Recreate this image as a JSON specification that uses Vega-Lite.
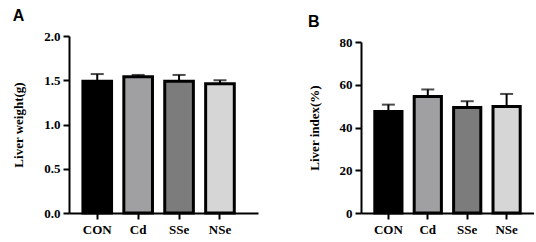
{
  "$schema": "https://vega.github.io/schema/vega-lite/v6.json",
  "padding": {"left": 12, "top": 8, "right": 0, "bottom": 0},
  "spacing": 50,
  "background": "white",
  "config": {
    "view": {"stroke": null},
    "axis": {
      "labelFont": "Liberation Serif", "labelFontWeight": "bold", "labelFontSize": 13, "labelColor": "black",
      "titleFont": "Liberation Serif", "titleFontWeight": "bold", "titleFontSize": 13, "titleColor": "black",
      "domainColor": "black", "domainWidth": 2, "tickColor": "black", "tickWidth": 2, "tickSize": 6,
      "grid": false
    },
    "title": {"font": "Liberation Sans", "fontWeight": "bold", "fontSize": 16, "anchor": "start", "frame": "bounds", "color": "black", "offset": 6}
  },
  "datasets": {
    "weight": [
      {"group": "CON", "mean": 1.49, "upper": 1.57},
      {"group": "Cd", "mean": 1.54, "upper": 1.56},
      {"group": "SSe", "mean": 1.49, "upper": 1.56},
      {"group": "NSe", "mean": 1.46, "upper": 1.50}
    ],
    "index": [
      {"group": "CON", "mean": 47.5, "upper": 50.7},
      {"group": "Cd", "mean": 54.5, "upper": 57.8},
      {"group": "SSe", "mean": 49.3, "upper": 52.3},
      {"group": "NSe", "mean": 49.8, "upper": 55.7}
    ]
  },
  "hconcat": [
    {
      "title": "A",
      "width": 189,
      "height": 177,
      "data": {"name": "weight"},
      "encoding": {
        "x": {"field": "group", "type": "nominal", "sort": ["CON", "Cd", "SSe", "NSe"],
              "scale": {"paddingInner": 0.3, "paddingOuter": 0.46, "align": 0.37},
              "axis": {"title": null, "labelAngle": 0, "labelPadding": 4}}
      },
      "layer": [
        {
          "mark": {"type": "rule", "color": "black", "strokeWidth": 2},
          "encoding": {"y": {"field": "mean", "type": "quantitative"}, "y2": {"field": "upper"}}
        },
        {
          "mark": {"type": "tick", "color": "black", "thickness": 2, "size": 13, "orient": "horizontal"},
          "encoding": {"y": {"field": "upper", "type": "quantitative"}}
        },
        {
          "mark": {"type": "bar", "stroke": "black", "strokeWidth": 3},
          "encoding": {
            "y": {"field": "mean", "type": "quantitative",
                  "scale": {"domain": [0, 2]},
                  "axis": {"title": "Liver weight(g)", "values": [0, 0.5, 1, 1.5, 2], "format": ".1f", "labelPadding": 3, "titlePadding": 18}},
            "fill": {"field": "group", "type": "nominal",
                     "scale": {"domain": ["CON", "Cd", "SSe", "NSe"], "range": ["#000000", "#a0a0a3", "#7c7c7c", "#d6d6d6"]},
                     "legend": null}
          }
        }
      ]
    },
    {
      "title": "B",
      "width": 173,
      "height": 177,
      "data": {"name": "index"},
      "encoding": {
        "x": {"field": "group", "type": "nominal", "sort": ["CON", "Cd", "SSe", "NSe"],
              "scale": {"paddingInner": 0.31, "paddingOuter": 0.35},
              "axis": {"title": null, "labelAngle": 0, "labelPadding": 4}}
      },
      "layer": [
        {
          "mark": {"type": "rule", "color": "black", "strokeWidth": 2},
          "encoding": {"y": {"field": "mean", "type": "quantitative"}, "y2": {"field": "upper"}}
        },
        {
          "mark": {"type": "tick", "color": "black", "thickness": 2, "size": 13, "orient": "horizontal"},
          "encoding": {"y": {"field": "upper", "type": "quantitative"}}
        },
        {
          "mark": {"type": "bar", "stroke": "black", "strokeWidth": 3},
          "encoding": {
            "y": {"field": "mean", "type": "quantitative",
                  "scale": {"domain": [0, 80], "range": [177, 6]},
                  "axis": {"title": "Liver index(%)", "values": [0, 20, 40, 60, 80], "labelPadding": 3, "titlePadding": 18}},
            "fill": {"field": "group", "type": "nominal",
                     "scale": {"domain": ["CON", "Cd", "SSe", "NSe"], "range": ["#000000", "#a0a0a3", "#7c7c7c", "#d6d6d6"]},
                     "legend": null}
          }
        }
      ]
    }
  ]
}
